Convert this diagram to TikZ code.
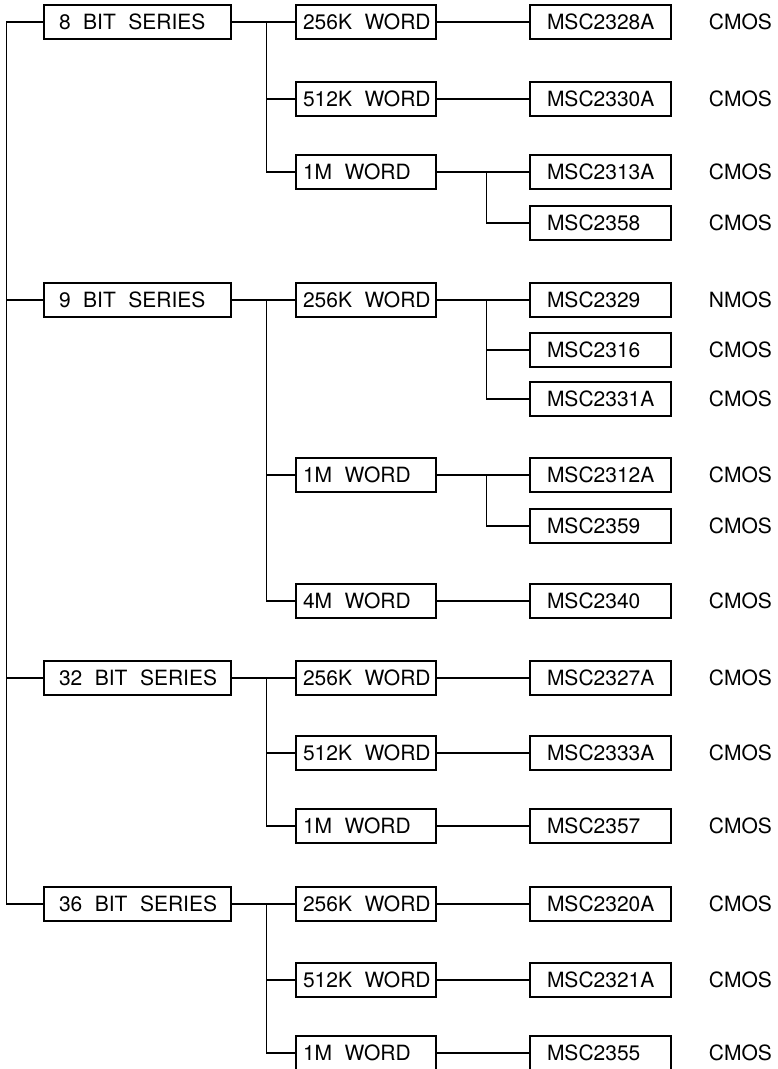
\documentclass[tikz,border=0pt]{standalone}
\usepackage{fontspec}
\setmainfont{TeX Gyre Heros}
\usepackage{tikz}
\usetikzlibrary{positioning}

\begin{document}
\begin{tikzpicture}[
    x=1pt, y=-1pt,
    every node/.style={font=\fontsize{21}{24}\selectfont,
                       execute at begin node={\spaceskip=12.5pt\relax}},
    ser/.style={rectangle, draw=black, line width=1.3pt,
                minimum height=34pt, text width=187pt, inner sep=0pt,
                align=left, execute at begin node={\hspace*{15pt}}},
    word/.style={rectangle, draw=black, line width=1.3pt,
                 minimum height=34pt, text width=140pt, inner sep=0pt,
                 align=left, execute at begin node={\hspace*{7pt}}},
    chip/.style={rectangle, draw=black, line width=1.3pt,
                 minimum height=34pt, text width=141pt, inner sep=0pt,
                 align=left, execute at begin node={\hspace*{17pt}}},
    tech/.style={anchor=west, inner sep=0pt},
    ln/.style={line width=1.3pt}
]
\useasboundingbox (0,0) rectangle (777,1069);

% series
\node[ser]  (s8)  at (137.5,22)  {8 BIT SERIES};
\node[ser]  (s9)  at (137.5,300) {9 BIT SERIES};
\node[ser]  (s32) at (137.5,678) {32 BIT SERIES};
\node[ser]  (s36) at (137.5,904) {36 BIT SERIES};

% word organisation
\node[word] (w8a)  at (366,22)   {256K WORD};
\node[word] (w8b)  at (366,99)   {512K WORD};
\node[word] (w8c)  at (366,172)  {1M WORD};
\node[word] (w9a)  at (366,300)  {256K WORD};
\node[word] (w9b)  at (366,475)  {1M WORD};
\node[word] (w9c)  at (366,601)  {4M WORD};
\node[word] (w32a) at (366,678)  {256K WORD};
\node[word] (w32b) at (366,753)  {512K WORD};
\node[word] (w32c) at (366,826)  {1M WORD};
\node[word] (w36a) at (366,904)  {256K WORD};
\node[word] (w36b) at (366,980)  {512K WORD};
\node[word] (w36c) at (366,1053) {1M WORD};

% modules
\node[chip] (m28a) at (600.5,22)   {MSC2328A};
\node[chip] (m30a) at (600.5,99)   {MSC2330A};
\node[chip] (m13a) at (600.5,172)  {MSC2313A};
\node[chip] (m58)  at (600.5,223)  {MSC2358};
\node[chip] (m29)  at (600.5,300)  {MSC2329};
\node[chip] (m16)  at (600.5,350)  {MSC2316};
\node[chip] (m31a) at (600.5,399)  {MSC2331A};
\node[chip] (m12a) at (600.5,475)  {MSC2312A};
\node[chip] (m59)  at (600.5,526)  {MSC2359};
\node[chip] (m40)  at (600.5,601)  {MSC2340};
\node[chip] (m27a) at (600.5,678)  {MSC2327A};
\node[chip] (m33a) at (600.5,753)  {MSC2333A};
\node[chip] (m57)  at (600.5,826)  {MSC2357};
\node[chip] (m20a) at (600.5,904)  {MSC2320A};
\node[chip] (m21a) at (600.5,980)  {MSC2321A};
\node[chip] (m55)  at (600.5,1053) {MSC2355};

% process
\foreach \m/\t in {m28a/CMOS, m30a/CMOS, m13a/CMOS, m58/CMOS, m29/NMOS,
                   m16/CMOS, m31a/CMOS, m12a/CMOS, m59/CMOS, m40/CMOS,
                   m27a/CMOS, m33a/CMOS, m57/CMOS, m20a/CMOS, m21a/CMOS,
                   m55/CMOS}
  \node[tech, right=37pt of \m] (t\m) {\t};

% spine
\draw[ln] (s8.west) -- ++(-37,0) |- (s36.west);
\draw[ln] (s9.west) -- ++(-37,0);
\draw[ln] (s32.west) -- ++(-37,0);

% series -> word
\foreach \a/\b in {s8/w8a, s8/w8b, s8/w8c, s9/w9a, s9/w9b, s9/w9c,
                   s32/w32a, s32/w32b, s32/w32c, s36/w36a, s36/w36b, s36/w36c}
  \draw[ln] (\a.east) -- ++(35,0) |- (\b.west);

% word -> module
\foreach \a/\b in {w8a/m28a, w8b/m30a, w8c/m13a, w8c/m58, w9a/m29, w9a/m16,
                   w9a/m31a, w9b/m12a, w9b/m59, w9c/m40, w32a/m27a, w32b/m33a,
                   w32c/m57, w36a/m20a, w36b/m21a, w36c/m55}
  \draw[ln] (\a.east) -- ++(50,0) |- (\b.west);
\end{tikzpicture}
\end{document}
